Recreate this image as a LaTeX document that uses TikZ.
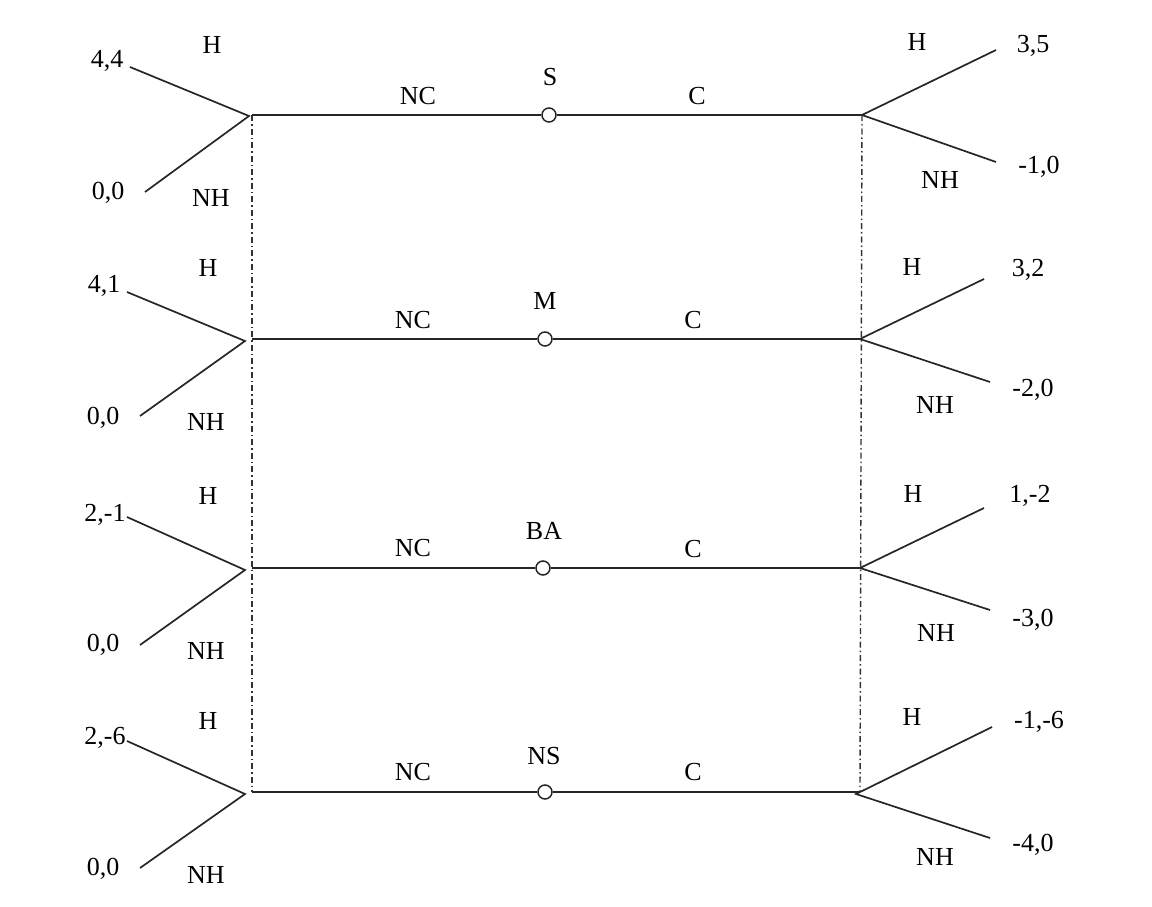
\documentclass[tikz,border=0pt]{standalone}
\usepackage{fontspec}
\setmainfont{Liberation Serif}
\begin{document}
\begin{tikzpicture}[x=1pt,y=-1pt,
  edge/.style={draw=black!85, line width=1.7pt},
  guide/.style={draw=black!80, line width=1.4pt, dash pattern=on 6pt off 3pt on 1.5pt off 3pt},
  lbl/.style={font=\fontsize{26}{30}\selectfont, inner sep=0pt, text=black},
  chance/.style={circle, draw=black!85, line width=1.5pt, minimum size=14pt, inner sep=0pt, fill=white}]
\useasboundingbox (0,0) rectangle (1152,907);

% ---------- Row 1 ----------
\coordinate (L1) at (252,115);
\coordinate (R1) at (862,115);
\coordinate (L1a) at (130,67);
\coordinate (L1b) at (145,192);
\coordinate (R1a) at (996,50);
\coordinate (R1b) at (996,162);
\node[chance] (c1) at (549,115) {};
\draw[edge] (L1) -- (c1) -- (R1);
\draw[edge] (L1a) -- (249,116) -- (L1b);
\draw[edge] (R1a) -- (R1) -- (R1b);
\node[lbl] (p1a) at (107,61) {4,4};
\node[lbl] (h1l) at (212,45) {H};
\node[lbl] (p1b) at (108,193) {0,0};
\node[lbl] (n1l) at (211,198) {NH};
\node[lbl] (nc1) at (418,96) {NC};
\node[lbl] (s1) at (550,77) {S};
\node[lbl] (co1) at (697,96) {C};
\node[lbl] (h1r) at (917,42) {H};
\node[lbl] (p1c) at (1033,46) {3,5};
\node[lbl] (n1r) at (940,180) {NH};
\node[lbl] (p1d) at (1039,167) {-1,0};

% ---------- Row 2 ----------
\coordinate (L2) at (252,339);
\coordinate (R2) at (860,339);
\coordinate (L2a) at (127,292);
\coordinate (L2b) at (140,416);
\coordinate (R2a) at (984,279);
\coordinate (R2b) at (990,382);
\node[chance] (c2) at (545,339) {};
\draw[edge] (L2) -- (c2) -- (R2);
\draw[edge] (L2a) -- (245,341) -- (L2b);
\draw[edge] (R2a) -- (R2) -- (R2b);
\node[lbl] (p2a) at (104,286) {4,1};
\node[lbl] (h2l) at (208,268) {H};
\node[lbl] (p2b) at (103,418) {0,0};
\node[lbl] (n2l) at (206,422) {NH};
\node[lbl] (nc2) at (413,320) {NC};
\node[lbl] (s2) at (545,301) {M};
\node[lbl] (co2) at (693,320) {C};
\node[lbl] (h2r) at (912,267) {H};
\node[lbl] (p2c) at (1028,270) {3,2};
\node[lbl] (n2r) at (935,405) {NH};
\node[lbl] (p2d) at (1033,390) {-2,0};

% ---------- Row 3 ----------
\coordinate (L3) at (252,568);
\coordinate (R3) at (860,568);
\coordinate (L3a) at (127,517);
\coordinate (L3b) at (140,645);
\coordinate (R3a) at (984,508);
\coordinate (R3b) at (990,610);
\node[chance] (c3) at (543,568) {};
\draw[edge] (L3) -- (c3) -- (R3);
\draw[edge] (L3a) -- (245,570) -- (L3b);
\draw[edge] (R3a) -- (R3) -- (R3b);
\node[lbl] (p3a) at (105,515) {2,-1};
\node[lbl] (h3l) at (208,496) {H};
\node[lbl] (p3b) at (103,645) {0,0};
\node[lbl] (n3l) at (206,651) {NH};
\node[lbl] (nc3) at (413,548) {NC};
\node[lbl] (s3) at (544,531) {BA};
\node[lbl] (co3) at (693,549) {C};
\node[lbl] (h3r) at (913,494) {H};
\node[lbl] (p3c) at (1030,496) {1,-2};
\node[lbl] (n3r) at (936,633) {NH};
\node[lbl] (p3d) at (1033,620) {-3,0};

% ---------- Row 4 ----------
\coordinate (L4) at (252,792);
\coordinate (R4) at (860,792);
\coordinate (L4a) at (127,741);
\coordinate (L4b) at (140,868);
\coordinate (R4a) at (992,727);
\coordinate (R4b) at (990,838);
\node[chance] (c4) at (545,792) {};
\draw[edge] (L4) -- (c4) -- (R4);
\draw[edge] (L4a) -- (245,794) -- (L4b);
\draw[edge] (R4a) -- (856,794) -- (R4b);
\node[lbl] (p4a) at (105,738) {2,-6};
\node[lbl] (h4l) at (208,721) {H};
\node[lbl] (p4b) at (103,869) {0,0};
\node[lbl] (n4l) at (206,875) {NH};
\node[lbl] (nc4) at (413,772) {NC};
\node[lbl] (s4) at (544,756) {NS};
\node[lbl] (co4) at (693,772) {C};
\node[lbl] (h4r) at (912,717) {H};
\node[lbl] (p4c) at (1039,722) {-1,-6};
\node[lbl] (n4r) at (935,857) {NH};
\node[lbl] (p4d) at (1033,845) {-4,0};

% ---------- information sets (dash-dot) ----------
\draw[guide] (L1) -- (L4);
\draw[guide] (R1) -- (R4);
\end{tikzpicture}
\end{document}
